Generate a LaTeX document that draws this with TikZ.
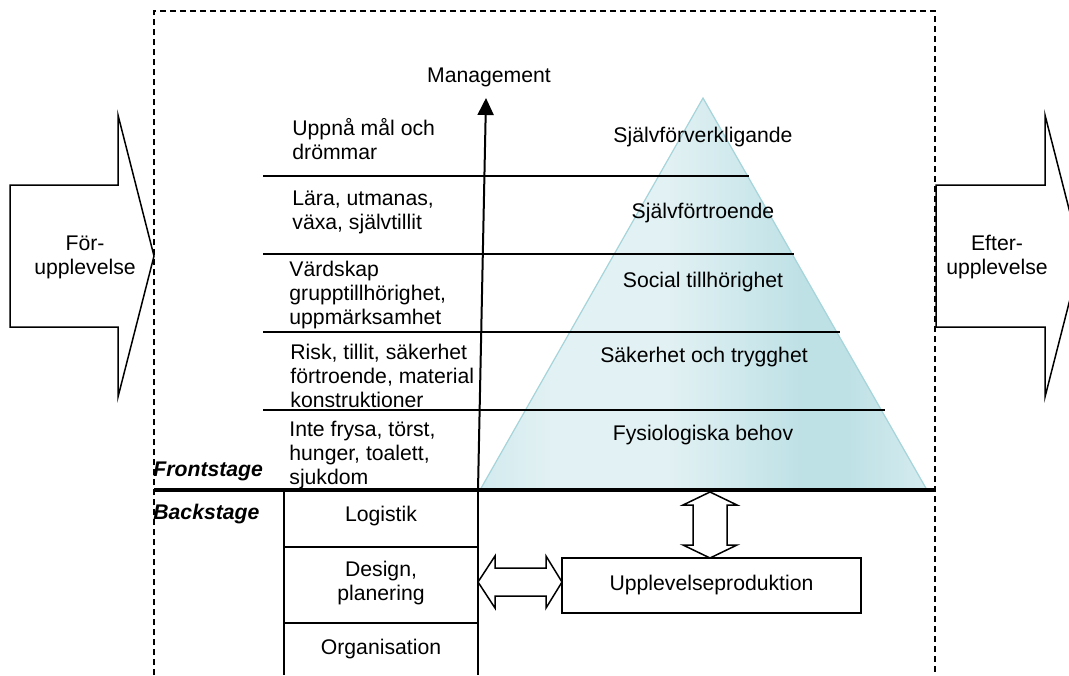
\documentclass[tikz,border=0pt]{standalone}
\usepackage{fontspec}
\setmainfont{Liberation Sans}
\usetikzlibrary{arrows.meta}
\definecolor{pyrlight}{RGB}{226,241,243}
\definecolor{pyredge}{RGB}{210,234,238}
\definecolor{pyrdark}{RGB}{190,225,230}
\definecolor{pyrmid}{RGB}{212,235,238}
\definecolor{pyrline}{RGB}{165,212,218}
\pgfdeclarehorizontalshading{pyrshade}{100bp}{color(0bp)=(pyredge); color(25bp)=(pyredge); color(33bp)=(pyrlight); color(46bp)=(pyrlight); color(61bp)=(pyrdark); color(66bp)=(pyrdark); color(75bp)=(pyrmid); color(100bp)=(pyrmid)}
\begin{document}
\begin{tikzpicture}[x=0.5pt,y=-0.5pt,
  txt/.style={font=\fontsize{10.6}{12}\selectfont, inner sep=0pt, align=left},
  ctxt/.style={font=\fontsize{10.6}{12}\selectfont, inner sep=0pt, align=center},
  stagelbl/.style={font=\fontsize{10.6}{12}\selectfont\bfseries\itshape, inner sep=0pt, anchor=west},
  thin/.style={line width=0.75pt},
  boxnode/.style={draw, line width=0.75pt, font=\fontsize{10.6}{12}\selectfont, align=center, inner sep=0pt}]
\useasboundingbox (0,0) rectangle (1069,675);
\clip (0,0) rectangle (1069,675);

% dashed frame
\draw[line width=0.7pt, dash pattern=on 3pt off 2pt] (154,675) -- (154,11) -- (935,11) -- (935,675);

% side arrows
\draw[thin, fill=white] (10,185) -- (118,185) -- (118,115) -- (154,256) -- (118,397) -- (118,327) -- (10,327) -- cycle;
\node[ctxt] (pre) at (85,257) {För-\\upplevelse};
\draw[thin, fill=white] (936,185) -- (1045,185) -- (1045,115) -- (1081,256) -- (1045,397) -- (1045,327) -- (936,327) -- cycle;
\node[ctxt] (post) at (997,257) {Efter-\\upplevelse};

% pyramid
\shade[shading=pyrshade] (703,98) -- (927,490) -- (480,490) -- cycle;
\draw[pyrline, line width=0.6pt] (480,490) -- (703,98) -- (927,490);

% level lines
\draw[thin] (263,176) -- (749,176);
\draw[thin] (263,254) -- (794,254);
\draw[thin] (263,332) -- (840,332);
\draw[thin] (263,410) -- (885,410);

% pyramid labels
\node[ctxt] (p5) at (703,137) {Självförverkligande};
\node[ctxt] (p4) at (703,213) {Självförtroende};
\node[ctxt] (p3) at (703,282) {Social tillhörighet};
\node[ctxt] (p2) at (704,357) {Säkerhet och trygghet};
\node[ctxt] (p1) at (703,435) {Fysiologiska behov};

% left texts
\node[txt, anchor=west] (l5) at (292,139) {Uppnå mål och\\drömmar};
\node[txt, anchor=west] (l4) at (292,212) {Lära, utmanas,\\växa, självtillit};
\node[txt, anchor=west] (l3) at (289,295) {Värdskap\\grupptillhörighet,\\uppmärksamhet};
\node[txt, anchor=west] (l2) at (290,376) {Risk, tillit, säkerhet\\förtroende, material\\konstruktioner};
\node[txt, anchor=west] (l1) at (289,455) {Inte frysa, törst,\\hunger, toalett,\\sjukdom};

% management arrow
\coordinate (mbase) at (478,490);
\coordinate (mtop) at (486,98);
\draw[line width=1pt, -{Triangle[length=8.5pt,width=8pt]}] (mbase) -- (mtop);
\node[ctxt] (mgmt) at (489,77) {Management};

% stage line
\draw[line width=2pt] (154,490) -- (935,490);
\node[stagelbl] (front) at (153,471) {Frontstage};
\node[stagelbl] (back) at (153,514) {Backstage};

% backstage column
\draw[thin] (284,490) -- (284,675);
\draw[thin] (478,490) -- (478,675);
\draw[thin] (284,547) -- (478,547);
\draw[thin] (284,623) -- (478,623);
\node[ctxt] (logi) at (381,516) {Logistik};
\node[ctxt] (design) at (381,583) {Design,\\planering};
\node[ctxt] (org) at (381,649) {Organisation};

% production box
\node[boxnode, minimum width=149.5pt, minimum height=27.5pt] (prod) at (711.5,585.5) {Upplevelseproduktion};

% vertical double arrow
\draw[thin, fill=white] (710,492) -- (737,505) -- (727,505) -- (727,545) -- (737,545) -- (710,558) -- (683,545) -- (693,545) -- (693,505) -- (683,505) -- cycle;

% horizontal double arrow
\draw[thin, fill=white] (478,582) -- (495,556) -- (495,568) -- (546,568) -- (546,556) -- (562,582) -- (546,608) -- (546,596) -- (495,596) -- (495,608) -- cycle;
\end{tikzpicture}
\end{document}
